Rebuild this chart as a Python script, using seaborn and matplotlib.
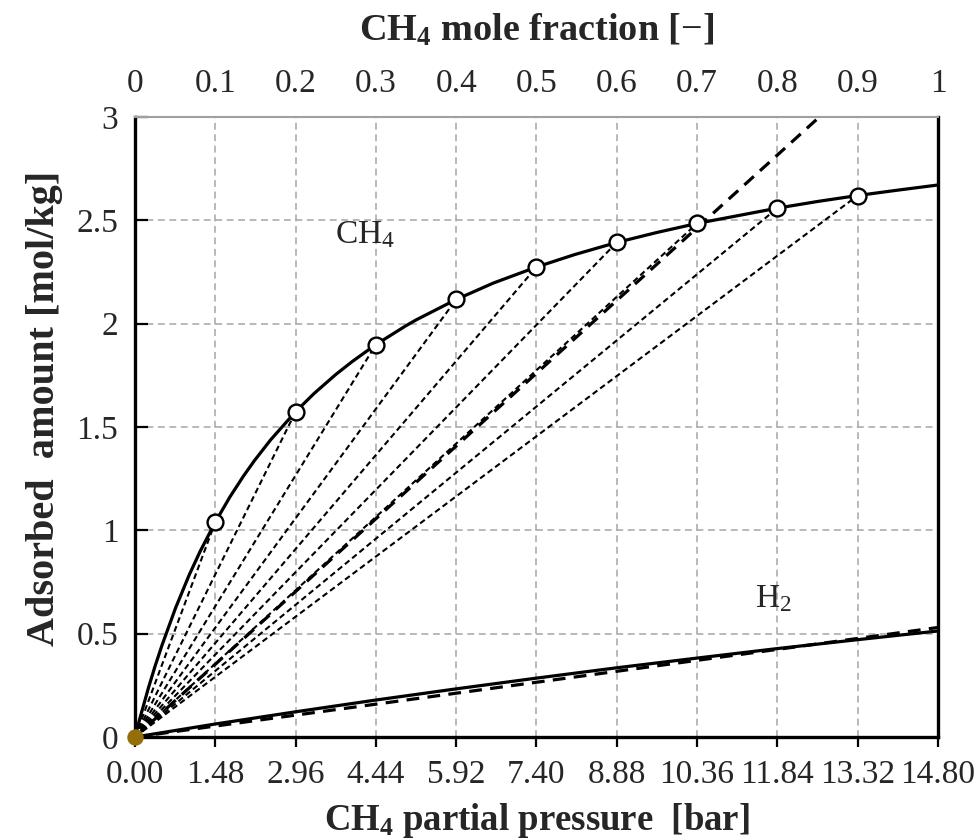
import matplotlib
matplotlib.use("Agg")
import matplotlib.pyplot as plt
import seaborn as sns
import numpy as np
import pandas as pd
from matplotlib.ticker import FixedLocator, FuncFormatter

# ---------------- data ----------------
ch4_p = [0.0, 0.10, 0.25, 0.37, 0.5, 0.75, 1.0, 1.20, 1.48, 1.75, 2.0, 2.2,
         2.5, 2.96, 3.30, 3.70, 4.0, 4.44, 5.0, 5.18, 5.92, 6.60, 7.40, 8.10,
         8.88, 9.60, 10.36, 11.84, 12.60, 13.32, 14.0, 14.80]
ch4_q = [0.0, 0.100, 0.240, 0.343, 0.446, 0.626, 0.785, 0.898, 1.040, 1.162,
         1.263, 1.337, 1.438, 1.574, 1.662, 1.754, 1.816, 1.899, 1.991, 2.018,
         2.117, 2.196, 2.274, 2.334, 2.393, 2.440, 2.485, 2.559, 2.592, 2.620,
         2.644, 2.671]

pt_p = [1.48, 2.96, 4.44, 5.92, 7.40, 8.88, 10.36, 11.84, 13.32]
pt_q = [1.040, 1.574, 1.899, 2.117, 2.274, 2.393, 2.485, 2.559, 2.620]

h2_p = [0.0, 1.48, 2.96, 4.44, 5.92, 7.40, 8.88, 10.36, 11.84, 13.32, 14.80]
h2_q = [0.0, 0.063, 0.122, 0.179, 0.233, 0.285, 0.335, 0.382, 0.428, 0.471, 0.513]

h2_lin_p = [0.0, 14.80]
h2_lin_q = [0.0, 0.530]

ch4_lin_p = [0.0, 14.80]
ch4_lin_q = [0.0, 3.52]

x_ticks = [0.00, 1.48, 2.96, 4.44, 5.92, 7.40, 8.88, 10.36, 11.84, 13.32, 14.80]
y_ticks = [0, 0.5, 1, 1.5, 2, 2.5, 3]
top_ticks = [0, 0.1, 0.2, 0.3, 0.4, 0.5, 0.6, 0.7, 0.8, 0.9, 1]

# ---------------- style ----------------
sns.set_theme(style="white")
plt.rcParams["font.family"] = ["Liberation Serif", "DejaVu Serif"]
plt.rcParams["mathtext.fontset"] = "custom"
plt.rcParams["mathtext.rm"] = "Liberation Serif"
plt.rcParams["mathtext.bf"] = "Liberation Serif:bold"
plt.rcParams["mathtext.default"] = "rm"

TICK_FS = 24
XLAB_FS = 26.5
TOP_FS = 27.5
YLAB_FS = 29

fig = plt.figure(figsize=(9.79, 8.38), dpi=100)
ax = fig.add_axes([0.1379, 0.1205, 0.8202, 0.7399])

ax.set_xlim(0, 14.8)
ax.set_ylim(0, 3)

# grid
grid_kw = dict(color="#a6a6a6", lw=1.1, dashes=(4.5, 3), zorder=0)
for xv in x_ticks[1:-1]:
    ax.axvline(xv, **grid_kw)
for yv in y_ticks[1:-1]:
    ax.axhline(yv, **grid_kw)

# rays from origin to each point
for xp, yq in zip(pt_p, pt_q):
    sns.lineplot(x=[0.0, xp], y=[0.0, yq], ax=ax, color="black", lw=1.5,
                 linestyle=(0, (2.8, 1.7)), sort=False,
                 estimator=None, zorder=3)

# thick dashed CH4 line
sns.lineplot(x=ch4_lin_p, y=ch4_lin_q, ax=ax, color="black", lw=2.3,
             linestyle=(0, (4, 2.6)), sort=False, estimator=None, zorder=3)

# CH4 isotherm
sns.lineplot(x=ch4_p, y=ch4_q, ax=ax, color="black", lw=2.3, sort=False,
             estimator=None, zorder=4)

# H2 isotherm and dashed line
sns.lineplot(x=h2_p, y=h2_q, ax=ax, color="black", lw=2.3, sort=False,
             estimator=None, zorder=4)
sns.lineplot(x=h2_lin_p, y=h2_lin_q, ax=ax, color="black", lw=2.3,
             linestyle=(0, (4, 2.6)), sort=False, estimator=None, zorder=4)

# points
sns.scatterplot(x=pt_p, y=pt_q, ax=ax, s=130, facecolor="white",
                edgecolor="black", linewidth=1.7, zorder=6)
sns.scatterplot(x=[0.0], y=[0.0], ax=ax, s=140, color="#946e0a",
                edgecolor="#946e0a", linewidth=0, zorder=7, clip_on=False)

# annotations
ax.text(3.69, 2.43, r"CH$_4$", fontsize=TICK_FS, ha="left", va="center")
ax.text(11.43, 0.67, r"H$_2$", fontsize=TICK_FS, ha="left", va="center")

# axes formatting
ax.xaxis.set_major_locator(FixedLocator(x_ticks))
ax.xaxis.set_major_formatter(FuncFormatter(lambda v, p: f"{v:.2f}"))
ax.yaxis.set_major_locator(FixedLocator(y_ticks))
ax.yaxis.set_major_formatter(FuncFormatter(lambda v, p: f"{v:g}"))

ax.tick_params(axis="x", direction="out", length=7, width=1.6, color="black",
               labelsize=TICK_FS, pad=9, bottom=True)
ax.tick_params(axis="y", direction="in", length=9, width=1.6, color="black",
               labelsize=TICK_FS, pad=12, left=True)

for side in ["left", "bottom", "right"]:
    ax.spines[side].set_color("black")
    ax.spines[side].set_linewidth(2.4)
ax.spines["top"].set_color("#a0a0a0")
ax.spines["top"].set_linewidth(1.5)

ax.set_xlabel(r"CH$_\mathbf{4}$ partial pressure  [bar]", fontsize=XLAB_FS,
              fontweight="bold", labelpad=8)
ax.set_ylabel("Adsorbed  amount [mol/kg]", fontsize=YLAB_FS,
              fontweight="bold", labelpad=10)
ax.yaxis.label.set_y(0.53)

sec = ax.secondary_xaxis("top", functions=(lambda x: x / 14.8, lambda f: f * 14.8))
sec.xaxis.set_major_locator(FixedLocator(top_ticks))
sec.xaxis.set_major_formatter(FuncFormatter(lambda v, p: f"{v:g}"))
sec.tick_params(axis="x", length=0, labelsize=TICK_FS, pad=13)
sec.spines["top"].set_visible(False)
sec.set_xlabel(r"CH$_\mathbf{4}$ mole fraction [$-$]", fontsize=TOP_FS,
               fontweight="bold", labelpad=20)

fig.savefig("out.png", dpi=100)
